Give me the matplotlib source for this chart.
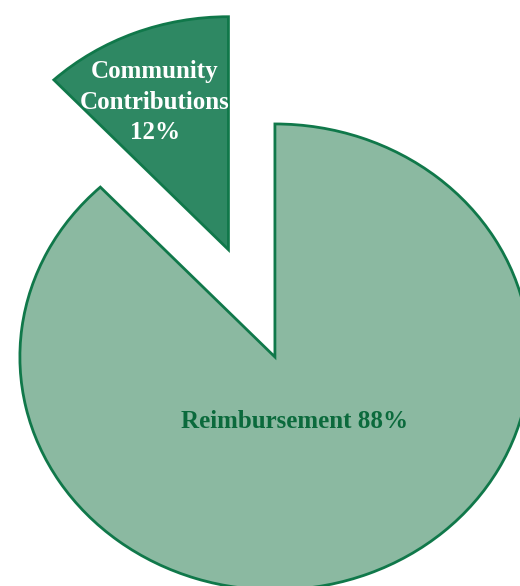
import matplotlib
matplotlib.use('Agg')
import matplotlib.pyplot as plt

labels = ['Reimbursement', 'Community\nContributions']
shares = [88, 12]
fills = ['#8bb9a1', '#2e8863']
text_colors = ['#0b6a3c', 'white']
explode = [0.0, 0.495]

fig = plt.figure(figsize=(5.2, 5.86), dpi=100)
ax = fig.add_axes([0, 0, 1, 1])

wedges, _ = ax.pie(shares, colors=fills, explode=explode, startangle=90,
                   counterclock=False,
                   wedgeprops=dict(edgecolor='#10784a', linewidth=2.0))
ax.set_aspect('auto')
ax.set_xlim(-1.078, 0.961)
ax.set_ylim(-0.983, 1.532)
ax.axis('off')

font = dict(family=['Liberation Serif', 'DejaVu Serif'], fontweight='bold', fontsize=18)
ax.text(0.078, -0.279, f'{labels[0]} {shares[0]}%', color=text_colors[0],
        ha='center', va='center', **font)
ax.text(-0.47, 1.094, f'{labels[1]}\n{shares[1]}%', color=text_colors[1],
        ha='center', va='center', linespacing=1.4, **font)

fig.savefig('out.png', dpi=100)
